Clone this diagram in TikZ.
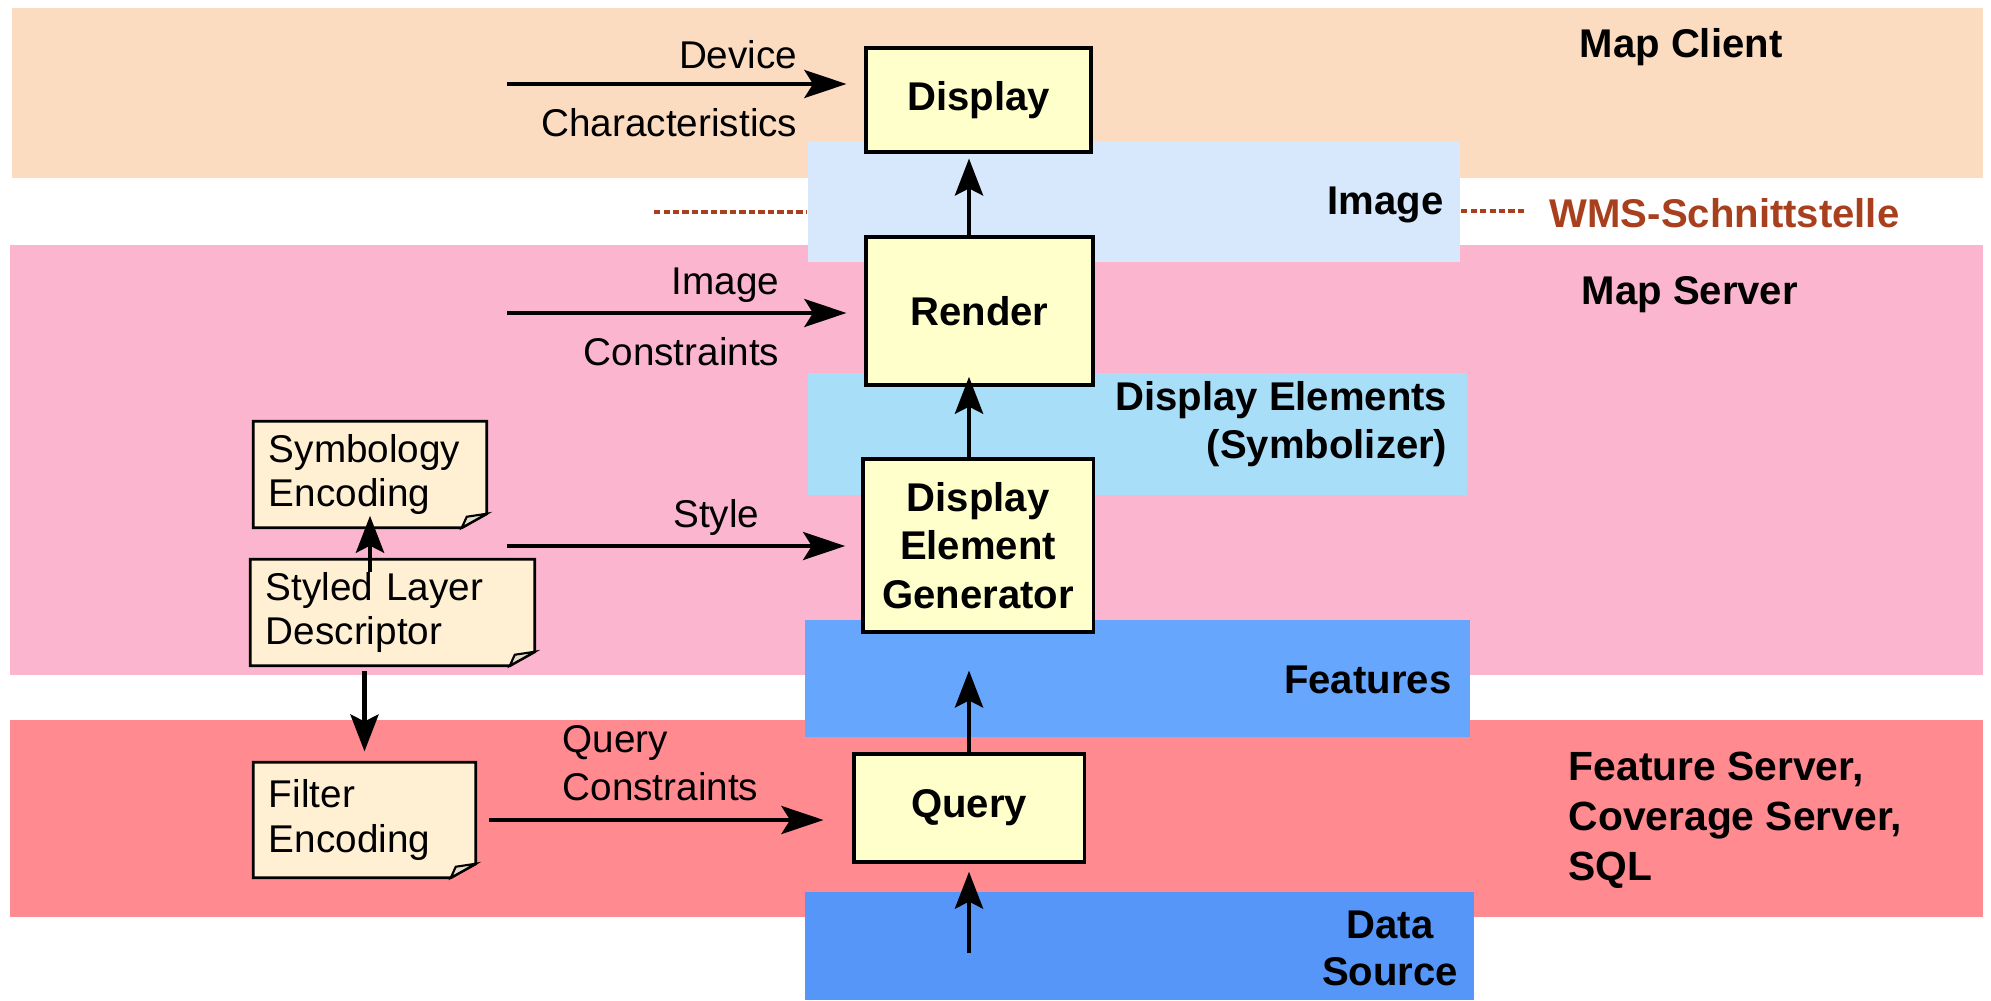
\documentclass[tikz,border=0pt]{standalone}
\usepackage{fontspec}
\setmainfont{Liberation Sans}
\usetikzlibrary{arrows.meta,calc}
\pgfdeclarelayer{bands}
\pgfdeclarelayer{notes}
\pgfsetlayers{bands,notes,main}

\definecolor{peach}{HTML}{FCDCC0}
\definecolor{imgblue}{HTML}{D8E8FC}
\definecolor{pinkband}{HTML}{FBB5CE}
\definecolor{delblue}{HTML}{A8DEF8}
\definecolor{featblue}{HTML}{66A6FC}
\definecolor{redband}{HTML}{FF8A90}
\definecolor{datablue}{HTML}{5596F8}
\definecolor{boxyellow}{HTML}{FFFFCC}
\definecolor{notecream}{HTML}{FFF0D4}
\definecolor{notefold}{HTML}{E6DDC8}
\definecolor{wmsbrown}{HTML}{A8401E}

\newcommand{\regfont}{\fontsize{11pt}{12.6pt}\selectfont}
\newcommand{\boldfont}{\fontsize{11.4pt}{13.8pt}\selectfont\bfseries}

\tikzset{
  procbox/.style={draw=black, line width=0.9pt, fill=boxyellow, inner sep=0pt, align=center, font=\boldfont},
  notebox/.style={inner xsep=0.15cm, inner ysep=0pt, align=left, font=\regfont},
  lbl/.style={inner sep=0pt, font=\regfont},
  bandlbl/.style={inner sep=0pt, font=\boldfont},
  vflow/.style={-{Stealth[length=10.5pt,width=8pt,inset=2pt]}, line width=1.2pt},
  hflow/.style={-{Stealth[length=12pt,width=8pt,inset=2.5pt]}, line width=0.9pt},
  wmsdash/.style={draw=wmsbrown, line width=1.2pt, dash pattern=on 1.8pt off 0.9pt},
}

\newcommand{\drawnote}[1]{%
  \begin{pgfonlayer}{notes}
    \draw[line width=0.8pt, fill=notecream]
      (#1.north west) -- (#1.north east) -- ([yshift=0.14cm]#1.south east)
      -- ([xshift=-0.25cm]#1.south east) -- (#1.south west) -- cycle;
    \draw[line width=0.6pt, fill=notefold]
      ([xshift=-0.25cm]#1.south east) -- ([xshift=-0.20cm,yshift=0.11cm]#1.south east)
      -- ([yshift=0.14cm]#1.south east) -- cycle;
  \end{pgfonlayer}}

\begin{document}
\begin{tikzpicture}[x=0.01cm, y=-0.01cm]
\useasboundingbox (0,0) rectangle (1991,1000);

\begin{pgfonlayer}{bands}
  \fill[white] (0,0) rectangle (1991,1000);
  \fill[peach] (12,8) rectangle (1983,178);
  \fill[pinkband] (10,245) rectangle (1983,675);
  \fill[redband] (10,720) rectangle (1983,917);
  \fill[imgblue] (808,142) rectangle (1460,262);
  \fill[delblue] (808,373) rectangle (1467,495);
  \fill[featblue] (805,620) rectangle (1470,737);
  \fill[datablue] (805,892) rectangle (1474,1000);
\end{pgfonlayer}

% process boxes
\node[procbox, minimum width=2.25cm, minimum height=1.04cm] (display) at (978.5,100) {Display};
\node[procbox, minimum width=2.27cm, minimum height=1.48cm] (render) at (979.5,311) {Render};
\node[procbox, minimum width=2.30cm, minimum height=1.73cm] (deg) at (978,545.5) {Display\\Element\\Generator};
\node[procbox, minimum width=2.30cm, minimum height=1.08cm] (query) at (969,808) {Query};

% notes
\node[notebox, text width=2.02cm, minimum height=1.05cm] (se) at (370,474.5) {Symbology\\Encoding};
\node[notebox, text width=2.53cm, minimum height=1.05cm] (sld) at (392.5,612.5) {Styled Layer\\Descriptor};
\node[notebox, text width=1.91cm, minimum height=1.14cm] (fe) at (364.5,820) {Filter\\Encoding};
\drawnote{se}
\drawnote{sld}
\drawnote{fe}

% band labels
\node[bandlbl, anchor=west] (mapclient) at (1579,47) {Map Client};
\node[bandlbl, anchor=east] (imagelbl) at (1444,205) {Image};
\node[bandlbl, anchor=west, text=wmsbrown] (wms) at (1549,213) {WMS-Schnittstelle};
\node[bandlbl, anchor=west] (mapserver) at (1581,295) {Map Server};
\node[bandlbl, anchor=east, align=right] (dellbl) at (1448,424) {Display Elements\\(Symbolizer)};
\node[bandlbl, anchor=east] (featlbl) at (1452,680) {Features};
\node[bandlbl, align=center, font=\fontsize{11.4pt}{13.4pt}\selectfont\bfseries] (dslbl) at (1390,948) {Data\\Source};
\node[bandlbl, anchor=west, align=left, font=\fontsize{11.6pt}{14.2pt}\selectfont\bfseries] (fslbl) at (1568,820) {Feature Server,\\Coverage Server,\\SQL};

% dashed interface lines
\coordinate (wmsl1) at (654,212);
\coordinate (wmsl2) at (807,212);
\coordinate (wmsr1) at (1461,211);
\coordinate (wmsr2) at (1525,211);
\draw[wmsdash] (wmsl1) -- (wmsl2);
\draw[wmsdash] (wmsr1) -- (wmsr2);

% arrow labels
\node[lbl, anchor=east] (devlbl) at (798,55) {Device};
\node[lbl, anchor=east] (charlbl) at (798,123) {Characteristics};
\node[lbl, anchor=east] (imglbl) at (780,285) {Image};
\node[lbl, anchor=east] (conlbl) at (780,352) {Constraints};
\node[lbl, anchor=east] (stylelbl) at (760,517) {Style};
\node[lbl, anchor=west] (qlbl) at (562,743) {Query};
\node[lbl, anchor=west] (qconlbl) at (562,787) {Constraints};

% horizontal flows
\coordinate (dcstart) at (507,84);
\coordinate (icstart) at (507,313);
\coordinate (ststart) at (507,546);
\draw[hflow, shorten >=5.1pt] (dcstart) -- (dcstart -| display.west);
\draw[hflow, shorten >=5.1pt] (icstart) -- (icstart -| render.west);
\draw[hflow, shorten >=4.6pt] (ststart) -- (ststart -| deg.west);
\draw[hflow, shorten <=3.7pt, shorten >=8.2pt] (fe.east) -- (fe.east -| query.west);

% vertical flows
\coordinate (dsstart) at (969,953);
\draw[vflow, shorten >=1.4pt] (render.north -| dsstart) -- (display.south -| dsstart);
\draw[vflow, shorten >=-2.8pt] (deg.north -| dsstart) -- (render.south -| dsstart);
\draw[vflow, shorten >=10.5pt] (query.north) -- (query.north |- deg.south);
\draw[vflow, shorten >=2.3pt] (dsstart) -- (query.south);
\draw[vflow, shorten <=-3.7pt, shorten >=-3.4pt] (se.south |- sld.north) -- (se.south);
\draw[vflow, shorten <=1.4pt, shorten >=3.1pt] (fe.north |- sld.south) -- (fe.north);
\end{tikzpicture}
\end{document}
